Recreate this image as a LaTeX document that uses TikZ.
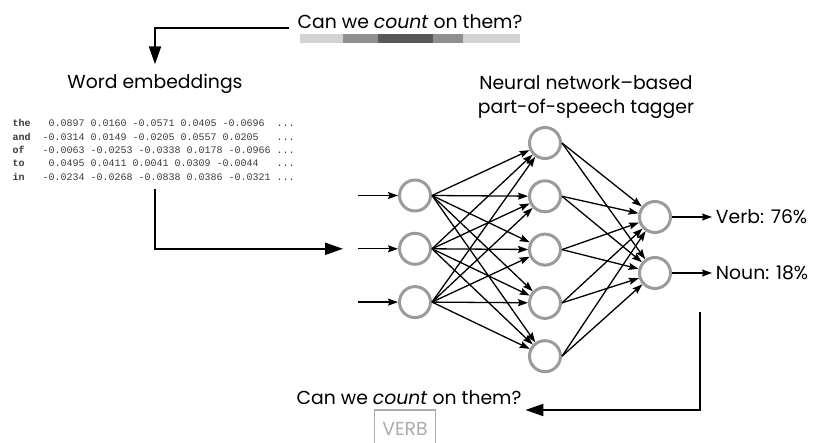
\documentclass[tikz,border=0pt]{standalone}
\usepackage{fontspec}
\setmainfont{Poppins}
\newfontfamily\embfont{Liberation Mono}
\usetikzlibrary{arrows,arrows.meta,positioning,calc}

\definecolor{ringgray}{HTML}{9B9B9B}
\definecolor{boxgray}{HTML}{ABABAB}
\definecolor{barlight}{HTML}{D3D3D3}
\definecolor{barmid}{HTML}{8F8F8F}
\definecolor{bardark}{HTML}{595959}
\definecolor{tablegray}{HTML}{3A3A3A}

\begin{document}
\begin{tikzpicture}[x=1pt,y=-1pt,>={Stealth[length=10pt,width=7pt,inset=1.5pt]},
  node distance=53.3pt,line width=1.3pt,
  main node/.style={circle,draw=ringgray,line width=3pt,minimum size=31pt,inner sep=0pt},
  big arrow/.style={line width=2pt,-{Triangle[length=18pt,width=12pt]}},
  label text/.style={font=\fontsize{18.8}{24}\selectfont},
  table row/.style={anchor=west,inner sep=0pt,text=tablegray,font=\embfont\fontsize{10}{12}\selectfont}]
  \useasboundingbox (0,0) rectangle (824,443);

  % the sentence going in
  \node[label text] (q1) at (410,22) {Can we \emph{count} on them?};
  \fill[barlight] (300,34) rectangle (343,43);
  \fill[barmid] (343,34) rectangle (378,43);
  \fill[bardark] (378,34) rectangle (433,43);
  \fill[barmid] (433,34) rectangle (463,43);
  \fill[barlight] (463,34) rectangle (520,43);

  % embeddings
  \node[label text] (emb) at (155,84) {Word embeddings};
  \foreach \w/\v [count=\i from 0] in {
      the/{~0.0897 0.0160 -0.0571 0.0405 -0.0696~~...},
      and/{-0.0314 0.0149 -0.0205 0.0557 0.0205~~~...},
      of/{-0.0063 -0.0253 -0.0338 0.0178 -0.0966 ...},
      to/{~0.0495 0.0411 0.0041 0.0309 -0.0044~~~...},
      in/{-0.0234 -0.0268 -0.0838 0.0386 -0.0321 ...}}
    \node[table row] (r\i) at (12,{123+13.5*\i}) {\makebox[3em][l]{\textbf{\w}}\v};

  % tagger
  \node[label text,align=center] (title) at (586,97)
    {Neural network--based\\part-of-speech tagger};

  \node[main node] (i1) at (415,195.5) {};
  \node[main node] (i2) [below of=i1] {};
  \node[main node] (i3) [below of=i2] {};

  \node[main node] (h1) at (545,143) {};
  \node[main node] (h2) [below of=h1] {};
  \node[main node] (h3) [below of=h2] {};
  \node[main node] (h4) [below of=h3] {};
  \node[main node] (h5) [below of=h4] {};

  \node[main node] (o1) at (655,217) {};
  \node[main node] (o2) [below of=o1,node distance=56pt] {};

  \foreach \a in {1,2,3} {
    \draw[->] ($(i\a.west)+(-40,0)$) -- (i\a);
    \foreach \b in {1,...,5}
      \path (i\a.east) edge[->] (h\b);
  }
  \foreach \b in {1,...,5}
    \foreach \c in {1,2}
      \path (h\b.east) edge[->] (o\c);

  \node[label text,anchor=west] (verb) at (712,217) {Verb: 76\%};
  \node[label text,anchor=west] (noun) at (712,273) {Noun: 18\%};
  \draw[->] (o1) -- (verb.west);
  \draw[->] (o2) -- (noun.west);

  % the tagged sentence
  \node[label text] (q2) at (409,398) {Can we \emph{count} on them?};
  \node[label text,draw=boxgray,text=boxgray,line width=1.5pt,minimum width=61pt,
    minimum height=48pt,inner sep=2pt,anchor=north] (tag) at (405,409) {\raisebox{9pt}{VERB}};

  \draw[big arrow] ($(q1.west)+(-5,6)$) -| ($(emb.north)+(0,-6)$);
  \draw[big arrow] ($(emb.south |- r4.south)+(0,8)$) |- ($(i2.west)+(-55,0)$);
  \draw[big arrow] ($(o2.east)+(27.5,39)$) |- ($(q2.east)+(0,12)$);
\end{tikzpicture}
\end{document}
